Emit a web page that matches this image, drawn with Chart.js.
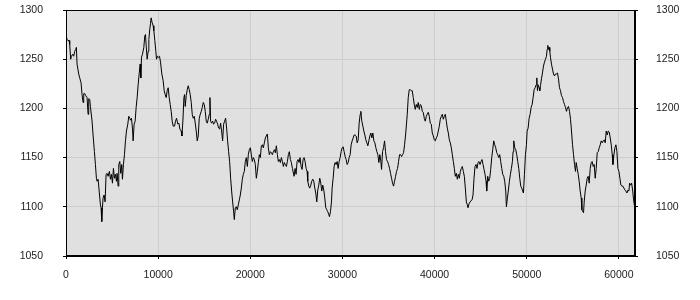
<!DOCTYPE html>
<html>
<head>
<meta charset="utf-8">
<script src="https://cdn.jsdelivr.net/npm/chart.js@4.4.1/dist/chart.umd.min.js"></script>
<style>
  html, body { margin: 0; padding: 0; background: #fff; }
  #wrap { width: 700px; height: 300px; }
</style>
</head>
<body>
<div id="wrap"><canvas id="chart" width="700" height="300"></canvas></div>
<script>
// [x, value] pairs
const trace = [
  [0,1275],[112,1270],[221,1269],[330,1269],[402,1265],[511,1250],[583,1253],[728,1255],[837,1253],[946,1258],
  [1054,1260],[1127,1262],[1199,1245],[1380,1235],[1489,1231],[1634,1226],[1743,1214],[1851,1206],[1924,1215],[2032,1215],
  [2141,1213],[2286,1211],[2395,1194],[2467,1210],[2576,1209],[2648,1202],[2830,1187],[2938,1173],[3083,1156],[3192,1143],
  [3300,1129],[3373,1126],[3482,1128],[3590,1117],[3735,1102],[3808,1099],[3880,1085],[3953,1099],[4025,1109],[4134,1112],
  [4243,1105],[4351,1133],[4460,1134],[4569,1131],[4713,1136],[4822,1128],[4931,1133],[5040,1124],[5148,1139],[5257,1129],
  [5366,1133],[5474,1126],[5547,1134],[5656,1121],[5728,1143],[5837,1146],[5945,1134],[6054,1143],[6126,1128],[6235,1143],
  [6344,1153],[6453,1167],[6561,1177],[6706,1184],[6815,1192],[6924,1190],[6996,1188],[7105,1190],[7213,1180],[7286,1167],
  [7394,1184],[7503,1187],[7612,1201],[7721,1211],[7829,1224],[7938,1235],[8047,1245],[8119,1231],[8192,1252],[8300,1255],
  [8445,1262],[8554,1274],[8626,1275],[8699,1264],[8808,1250],[8916,1258],[8989,1270],[9097,1281],[9170,1286],[9242,1292],
  [9351,1287],[9460,1284],[9532,1279],[9641,1269],[9749,1258],[9822,1250],[9931,1253],[10039,1252],[10148,1253],[10257,1247],
  [10402,1235],[10547,1228],[10655,1218],[10764,1214],[10873,1211],[10981,1218],[11090,1221],[11199,1211],[11307,1204],[11416,1197],
  [11525,1187],[11633,1182],[11778,1182],[11887,1187],[11996,1190],
  [12142,1184],[12251,1185],[12359,1179],[12504,1177],[12577,1172],[12685,1187],[12794,1211],[12867,1214],[12939,1202],[13048,1213],
  [13156,1219],[13265,1223],[13374,1219],[13483,1214],[13591,1206],[13700,1194],[13809,1190],[13917,1192],[14026,1185],[14135,1177],
  [14243,1167],[14352,1172],[14461,1190],[14569,1194],[14678,1197],[14787,1201],[14895,1206],[15004,1204],[15113,1197],[15222,1187],
  [15330,1185],[15439,1189],[15548,1194],[15620,1211],[15693,1187],[15801,1185],[15910,1187],[16019,1184],[16127,1185],[16236,1189],
  [16345,1187],[16453,1184],[16562,1180],[16671,1179],[16779,1185],[16888,1177],[16997,1167],[17106,1184],[17214,1187],[17323,1190],
  [17432,1180],[17540,1167],[17649,1156],[17758,1146],[17866,1129],[17975,1116],[18084,1105],[18192,1095],[18265,1087],[18374,1099],
  [18482,1100],[18591,1097],[18700,1102],[18809,1107],[18917,1112],[19026,1119],[19135,1128],[19243,1133],[19352,1136],[19461,1146],
  [19569,1150],[19678,1141],[19787,1153],[19895,1158],[20004,1160],[20113,1153],[20221,1146],[20330,1150],[20439,1148],[20547,1143],
  [20656,1129],[20765,1136],[20873,1145],[20982,1153],[21091,1150],[21200,1162],[21308,1163],[21417,1160],[21526,1165],[21634,1170],
  [21743,1172],[21852,1174],[21960,1160],[22069,1153],[22178,1156],[22286,1155],[22395,1153],[22504,1156],[22612,1158],[22721,1155],
  [22830,1162],[22939,1153],[23047,1146],[23156,1148],[23265,1145],[23373,1150],[23482,1146],[23591,1141],[23699,1145],[23808,1143],
  [23917,1141],[24025,1146],[24134,1153],[24243,1156],[24351,1148],[24460,1145],[24569,1139],
  [24751,1131],[24860,1139],[24969,1133],[25077,1146],[25186,1148],[25295,1145],[25404,1150],[25512,1141],[25621,1138],[25730,1148],
  [25838,1150],[25947,1146],[26056,1139],[26164,1136],[26237,1126],[26346,1121],[26454,1119],[26563,1122],[26672,1126],[26780,1128],
  [26889,1126],[26998,1119],[27106,1114],[27215,1105],[27324,1117],[27432,1122],[27541,1129],[27650,1124],[27758,1116],[27867,1122],
  [27976,1117],[28085,1109],[28193,1099],[28302,1097],[28411,1095],[28519,1092],[28592,1090],[28700,1095],[28809,1105],[28882,1119],
  [28990,1129],[29099,1141],[29208,1145],[29316,1143],[29425,1146],[29534,1139],[29643,1146],[29751,1150],[29860,1156],[29969,1160],
  [30077,1161],[30186,1156],[30295,1151],[30403,1148],[30512,1143],[30621,1145],[30729,1150],[30838,1153],[30947,1163],[31055,1167],
  [31164,1170],[31273,1173],[31382,1173],[31490,1172],[31599,1165],[31708,1168],[31816,1185],[31925,1194],[31997,1197],[32106,1187],
  [32215,1182],[32323,1177],[32432,1173],[32541,1168],[32649,1165],[32758,1162],[32867,1167],[32975,1172],[33084,1175],[33193,1170],
  [33302,1175],[33410,1167],[33519,1165],[33628,1160],[33736,1156],[33845,1153],[33954,1145],[34062,1153],[34171,1146],[34244,1138],
  [34352,1156],[34461,1160],[34570,1167],[34678,1156],[34787,1148],[34896,1146],[35005,1143],[35113,1139],[35222,1134],[35331,1129],
  [35439,1124],[35548,1121],[35657,1126],[35765,1131],[35874,1136],[35983,1139],[36091,1146],[36200,1153],[36309,1153],[36417,1151],
  [36526,1153],[36635,1155],[36743,1163],[36852,1173],
  [37034,1194],[37142,1211],[37251,1219],[37360,1219],[37468,1218],[37577,1218],[37686,1211],[37795,1204],[37903,1199],[38012,1204],
  [38121,1201],[38229,1206],[38338,1199],[38447,1204],[38555,1203],[38664,1197],[38773,1196],[38881,1190],[38990,1187],[39099,1192],
  [39207,1194],[39316,1196],[39425,1192],[39534,1185],[39642,1184],[39751,1175],[39860,1172],[39968,1168],[40077,1167],[40186,1170],
  [40294,1172],[40403,1177],[40512,1182],[40620,1189],[40729,1192],[40838,1194],[40946,1189],[41055,1192],[41164,1194],[41273,1187],
  [41381,1180],[41490,1175],[41599,1168],[41707,1165],[41816,1160],[41925,1153],[42033,1146],[42142,1139],[42251,1131],[42360,1134],
  [42468,1128],[42577,1133],[42686,1129],[42794,1136],[42903,1139],[43012,1141],[43120,1136],[43229,1131],[43338,1119],[43446,1105],
  [43555,1102],[43628,1099],[43736,1103],[43845,1105],[43954,1106],[44062,1107],[44171,1112],[44280,1129],[44388,1141],[44497,1143],
  [44606,1139],[44714,1145],[44823,1146],[44932,1143],[45040,1146],[45149,1148],[45258,1143],[45366,1138],[45475,1133],[45584,1126],
  [45656,1116],[45765,1131],[45874,1126],[45983,1129],[46091,1138],[46200,1150],[46309,1158],[46417,1167],[46526,1163],[46635,1160],
  [46743,1155],[46852,1153],[46961,1150],[47069,1153],[47178,1146],[47287,1139],[47396,1133],[47504,1131],[47613,1126],[47722,1116],
  [47794,1100],[47903,1109],[48011,1117],[48120,1126],[48229,1133],[48337,1139],[48446,1146],[48519,1156],[48591,1167],[48700,1160],
  [48809,1158],[48917,1153],[49026,1146],[49135,1139],[49243,1129],[49352,1121],[49461,1119],
  [49643,1114],[49752,1133],[49860,1153],[49969,1163],[50042,1177],[50150,1180],[50259,1190],[50368,1194],[50476,1201],[50585,1204],
  [50694,1211],[50802,1219],[50911,1221],[51020,1224],[51092,1231],[51165,1218],[51237,1224],[51346,1221],[51418,1218],[51491,1223],
  [51599,1230],[51708,1236],[51817,1243],[51926,1247],[52034,1250],[52143,1253],[52215,1260],[52288,1264],[52360,1260],[52433,1262],
  [52505,1258],[52578,1252],[52686,1245],[52795,1240],[52904,1235],[53012,1233],[53121,1235],[53230,1235],[53339,1236],[53447,1230],
  [53556,1221],[53665,1218],[53773,1213],[53882,1211],[53991,1207],[54099,1204],[54208,1201],[54317,1197],[54425,1201],[54534,1202],
  [54643,1197],[54752,1189],[54860,1177],[54969,1163],[55078,1153],[55186,1143],[55295,1136],[55367,1145],[55476,1139],[55585,1133],
  [55693,1126],[55802,1116],[55911,1109],[55983,1097],[56092,1095],[56164,1094],[56237,1105],[56345,1116],[56454,1122],[56563,1129],
  [56671,1131],[56780,1124],[56889,1139],[56997,1145],[57106,1146],[57215,1141],[57324,1143],[57432,1129],[57541,1139],[57650,1155],
  [57758,1156],[57867,1160],[57976,1163],[58084,1167],[58193,1165],[58302,1167],[58411,1168],[58519,1165],[58628,1177],[58737,1173],
  [58845,1177],[58954,1176],[59063,1170],[59171,1163],[59280,1153],[59353,1143],[59461,1153],[59570,1160],[59679,1163],[59787,1156],
  [59896,1139],[60005,1136],[60113,1129],[60222,1122],[60331,1121],[60440,1121],[60548,1119],[60657,1117],[60765,1116],[60874,1114],
  [60983,1117],[61092,1116],[61164,1124],[61273,1122],[61382,1124],[61490,1117],[61599,1107],[61708,1100]
];

const xTicks = [0, 10000, 20000, 30000, 40000, 50000, 60000];
const yTicks = [1050, 1100, 1150, 1200, 1250, 1300];
const xMax = 61750;

const plotFrame = {
  id: 'plotFrame',
  beforeDraw(chart) {
    const { ctx, chartArea: a } = chart;
    ctx.save();
    ctx.fillStyle = '#e0e0e0';
    ctx.fillRect(a.left, a.top, a.right - a.left, a.bottom - a.top);
    ctx.restore();
  },
  afterDraw(chart) {
    const { ctx, chartArea: a } = chart;
    ctx.save();
    ctx.strokeStyle = '#000';
    ctx.lineWidth = 1;
    ctx.strokeRect(a.left + 0.5, a.top + 0.5, a.right - a.left - 1, a.bottom - a.top - 1);
    ctx.restore();
  }
};

Chart.defaults.font.family = "'Liberation Sans', Arial, sans-serif";
Chart.defaults.font.size = 10.5;
Chart.defaults.color = '#222';

const tickList = (values) => (scale) => {
  scale.ticks = values.map(v => ({ value: v }));
};

// fixed axis widths, and no extra label padding pushed into the layout
const fixWidth = (w) => (s) => {
  s.width = w;
  s.paddingTop = 0;
  s.paddingBottom = 0;
};

new Chart(document.getElementById('chart'), {
  type: 'line',
  data: {
    datasets: [{
      data: trace.map(([x, y]) => ({ x, y })),
      borderColor: '#000',
      borderWidth: 1,
      pointRadius: 0,
      tension: 0,
      fill: false,
    }]
  },
  options: {
    responsive: false,
    animation: false,
    events: [],
    layout: { autoPadding: false, padding: { top: 10, left: 0, right: 0, bottom: 0 } },
    plugins: { legend: { display: false }, tooltip: { enabled: false } },
    scales: {
      x: {
        type: 'linear',
        min: 0,
        max: xMax,
        afterBuildTicks: tickList(xTicks),
        afterFit: (s) => { s.height = 44; s.paddingLeft = 0; s.paddingRight = 0; },
        grid: { color: '#cdcdcd', tickColor: '#000', tickLength: 3 },
        border: { color: '#000' },
        ticks: { padding: 10, maxRotation: 0, callback: (v) => String(v) },
      },
      y: {
        position: 'left',
        min: 1050,
        max: 1300,
        afterBuildTicks: tickList(yTicks),
        afterFit: fixWidth(66),
        grid: { color: '#cdcdcd', tickColor: '#000', tickLength: 3 },
        border: { color: '#000' },
        ticks: { padding: 20, callback: (v) => String(v) },
      },
      y2: {
        position: 'right',
        min: 1050,
        max: 1300,
        afterBuildTicks: tickList(yTicks),
        afterFit: fixWidth(65),
        grid: { drawOnChartArea: false, tickColor: '#000', tickLength: 3 },
        border: { color: '#000' },
        ticks: { padding: 18, callback: (v) => String(v) },
      }
    }
  },
  plugins: [plotFrame]
});
</script>
</body>
</html>
